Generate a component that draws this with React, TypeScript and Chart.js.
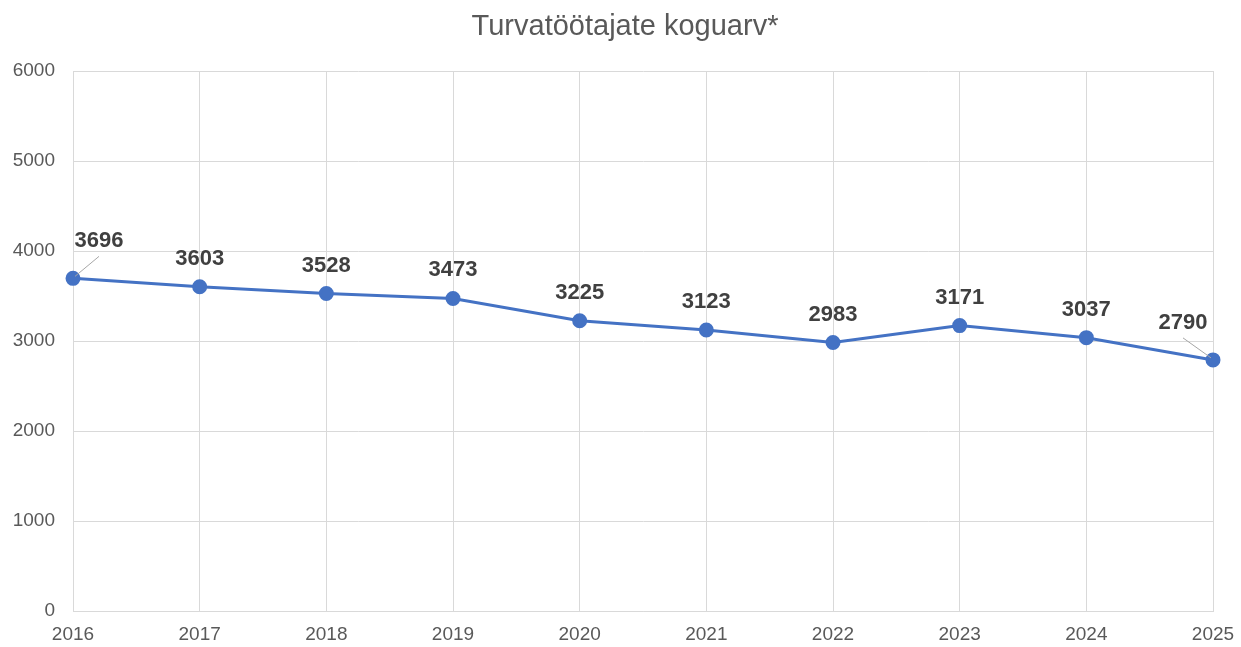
import React, { useEffect, useRef } from "react";
import { Chart, registerables } from "chart.js";

Chart.register(...registerables);

const years = ["2016", "2017", "2018", "2019", "2020", "2021", "2022", "2023", "2024", "2025"];
const guards = [3696, 3603, 3528, 3473, 3225, 3123, 2983, 3171, 3037, 2790];
const yTicks = [0, 1000, 2000, 3000, 4000, 5000, 6000];
const titleText = "Turvatöötajate koguarv*";

const FONT = "'Liberation Sans', Arial, sans-serif";

// label offsets relative to the point (dx, dy), with optional leader line
const labelOffsets: Record<number, { dx: number; dy: number; leader: boolean }> = {
  0: { dx: 26, dy: -37, leader: true },
  9: { dx: -30, dy: -37, leader: true },
};

const titlePlugin = {
  id: "customTitle",
  afterDraw(chart: any) {
    const ctx = chart.ctx;
    ctx.save();
    ctx.font = `29px ${FONT}`;
    ctx.fillStyle = "#595959";
    ctx.textAlign = "center";
    ctx.textBaseline = "middle";
    ctx.fillText(titleText, 625, 27);
    ctx.restore();
  },
};

const dataLabelPlugin = {
  id: "dataLabels",
  afterDatasetsDraw(chart: any) {
    const ctx = chart.ctx;
    const meta = chart.getDatasetMeta(0);
    const values = chart.data.datasets[0].data as number[];
    ctx.save();
    ctx.font = `bold 22px ${FONT}`;
    ctx.fillStyle = "#404040";
    ctx.textAlign = "center";
    ctx.textBaseline = "middle";
    meta.data.forEach((pt: any, i: number) => {
      const off = labelOffsets[i] || { dx: 0, dy: -28, leader: false };
      const lx = pt.x + off.dx;
      const ly = pt.y + off.dy;
      if (off.leader) {
        ctx.strokeStyle = "#a6a6a6";
        ctx.lineWidth = 1;
        ctx.beginPath();
        const sx = lx;
        const sy = ly + 15;
        const ex = pt.x + (off.dx > 0 ? 2 : -2);
        const ey = pt.y - 2;
        ctx.moveTo(sx, sy);
        ctx.lineTo(ex, ey);
        ctx.stroke();
      }
      ctx.fillText(String(values[i]), lx, ly);
    });
    ctx.restore();
  },
};

export default function App() {
  const canvasRef = useRef<HTMLCanvasElement | null>(null);

  useEffect(() => {
    if (!canvasRef.current) return;
    const chart = new Chart(canvasRef.current, {
      type: "line",
      data: {
        labels: years,
        datasets: [
          {
            data: guards,
            borderColor: "#4472C4",
            backgroundColor: "#4472C4",
            borderWidth: 3,
            pointRadius: 6,
            pointHoverRadius: 6,
            pointBackgroundColor: "#4472C4",
            pointBorderColor: "#4472C4",
            tension: 0,
          },
        ],
      },
      options: {
        animation: false,
        responsive: true,
        maintainAspectRatio: false,
        layout: { padding: { left: 0, right: 28, top: 71, bottom: 0 } },
        plugins: {
          legend: { display: false },
          tooltip: { enabled: false },
          title: { display: false },
        },
        scales: {
          x: {
            type: "category",
            offset: false,
            grid: { color: "#d9d9d9", lineWidth: 1, tickLength: 0, drawTicks: false },
            border: { color: "#d9d9d9", width: 1 },
            ticks: {
              color: "#595959",
              font: { family: FONT, size: 19 },
              padding: 12,
              maxRotation: 0,
              autoSkip: false,
            },
            afterFit: (scale: any) => {
              scale.height = 36;
              scale.paddingLeft = 0;
              scale.paddingRight = 0;
            },
          },
          y: {
            min: 0,
            max: 6000,
            afterBuildTicks: (scale: any) => {
              scale.ticks = yTicks.map((v) => ({ value: v }));
            },
            grid: { color: "#d9d9d9", lineWidth: 1, tickLength: 0, drawTicks: false },
            border: { color: "#d9d9d9", width: 1 },
            ticks: {
              color: "#595959",
              font: { family: FONT, size: 19 },
              padding: 18,
              callback: (value: any) => String(value),
            },
            afterFit: (scale: any) => {
              scale.width = 73;
              scale.paddingTop = 0;
              scale.paddingBottom = 0;
            },
          },
        },
      },
      plugins: [dataLabelPlugin, titlePlugin],
    });
    return () => chart.destroy();
  }, []);

  return (
    <div style={{ position: "absolute", left: 0, top: 0, width: 1241, height: 647, background: "#ffffff" }}>
      <canvas ref={canvasRef} />
    </div>
  );
}
